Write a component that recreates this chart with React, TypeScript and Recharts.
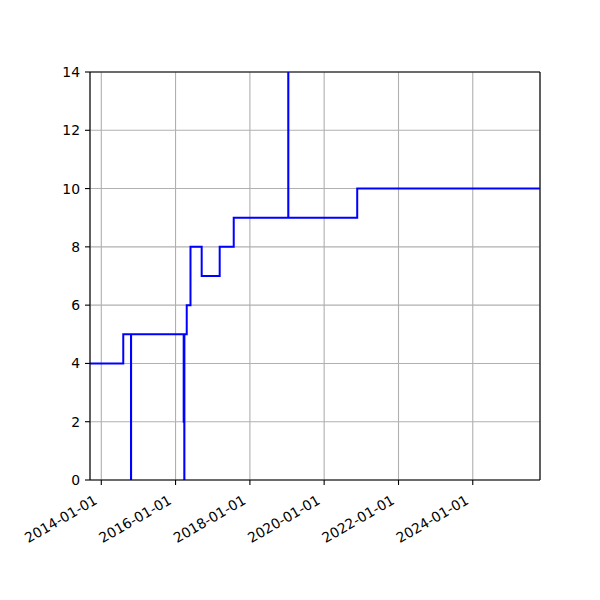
import { LineChart, Line, XAxis, YAxis, CartesianGrid, ReferenceLine } from 'recharts';

// step change dates and the value that holds from each date on
const stepDates = [
  '2013-09-12', '2014-08-05', '2014-10-20', '2014-10-21',
  '2016-03-21', '2016-03-22', '2016-03-27', '2016-03-28',
  '2016-04-20', '2016-05-27', '2016-09-14', '2017-03-10',
  '2017-07-26', '2019-01-13', '2019-01-14', '2020-11-21', '2025-10-23',
];
const stepValues = [4, 5, 0, 5, 2, 5, 0, 5, 6, 8, 7, 8, 9, 14, 9, 10, 10];

const xTickDates = ['2014-01-01', '2016-01-01', '2018-01-01', '2020-01-01', '2022-01-01', '2024-01-01'];
const yTicks = [0, 2, 4, 6, 8, 10, 12, 14];

const toTime = (d: string) => Date.parse(d + 'T00:00:00Z');

const data = stepDates.map((d, i) => ({ t: toTime(d), v: stepValues[i] }));
const xTicks = xTickDates.map(toTime);
const xMin = data[0].t;
const xMax = data[data.length - 1].t;

const FONT = 'DejaVu Sans, sans-serif';

const DateTick = (props: any) => {
  const { x, payload } = props;
  const label = new Date(payload.value).toISOString().slice(0, 10);
  const ax = x - 3;
  const ay = 503;
  return (
    <text
      x={ax}
      y={ay}
      textAnchor="end"
      fontFamily={FONT}
      fontSize={13.9}
      fill="#000"
      transform={`rotate(-30, ${ax}, ${ay})`}
    >
      {label}
    </text>
  );
};

export default function App() {
  return (
    <div style={{ position: 'absolute', left: 0, top: 0, width: 600, height: 600, background: '#fff' }}>
      <LineChart width={600} height={600} data={data} margin={{ top: 72, right: 60, bottom: 60, left: 50 }}>
        <CartesianGrid stroke="#b0b0b0" strokeWidth={1.1} />
        <XAxis
          dataKey="t"
          type="number"
          scale="linear"
          domain={[xMin, xMax]}
          ticks={xTicks}
          allowDataOverflow
          height={60}
          axisLine={{ stroke: '#000', strokeWidth: 1.1 }}
          tickLine={{ stroke: '#000', strokeWidth: 1.1 }}
          tickSize={5}
          tick={<DateTick />}
          interval={0}
        />
        <YAxis
          type="number"
          domain={[0, 14]}
          ticks={yTicks}
          allowDataOverflow
          width={40}
          axisLine={{ stroke: '#000', strokeWidth: 1.1 }}
          tickLine={{ stroke: '#000', strokeWidth: 1.1 }}
          tickSize={5}
          tickMargin={5}
          tick={{ fill: '#000', fontFamily: FONT, fontSize: 13.9 }}
          interval={0}
        />
        <ReferenceLine y={14} stroke="#000" strokeWidth={1.1} />
        <ReferenceLine x={xMax} stroke="#000" strokeWidth={1.1} />
        <Line
          type="stepAfter"
          dataKey="v"
          stroke="#0000ff"
          strokeWidth={2}
          dot={false}
          isAnimationActive={false}
        />
      </LineChart>
    </div>
  );
}
